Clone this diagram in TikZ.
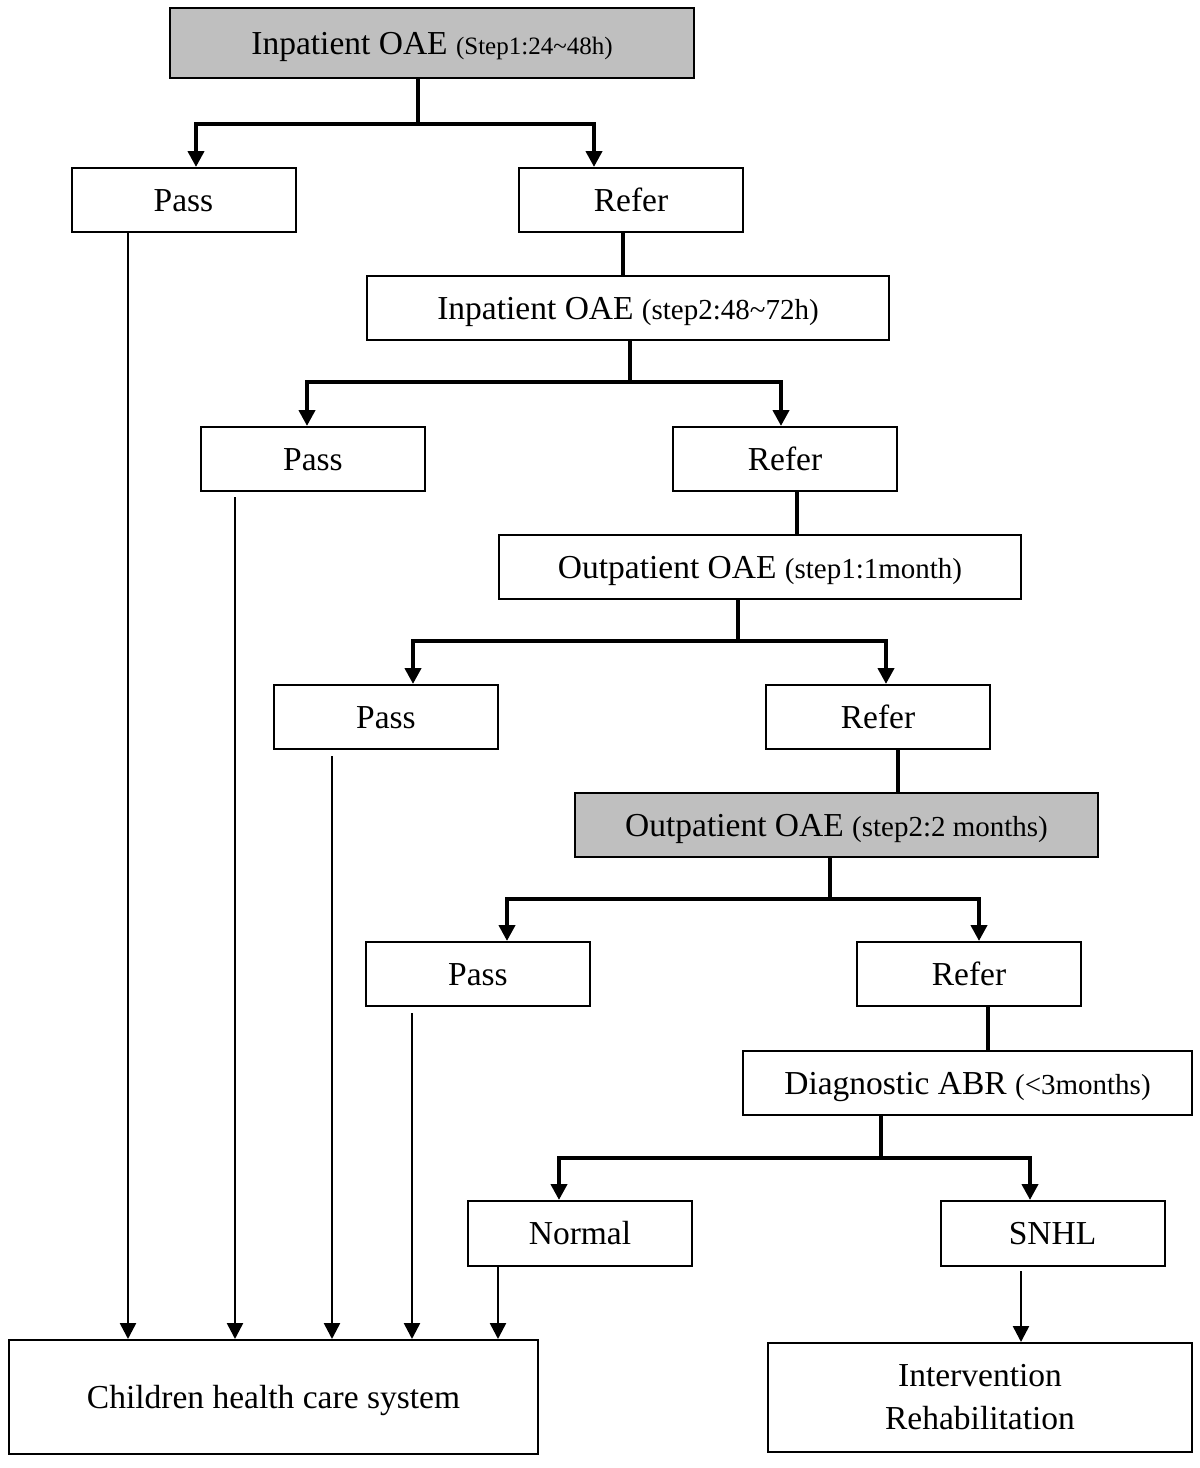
\documentclass[tikz,border=0pt]{standalone}
\usepackage{fontspec}
\setmainfont{Liberation Serif}
\usetikzlibrary{arrows.meta}

\tikzset{
  boxbase/.style={draw,line width=2pt,minimum width=224pt,minimum height=64pt,inner sep=0pt,
    font=\fontsize{33.5}{43}\selectfont,align=center},
  box/.style={boxbase,text height=22pt,text depth=0pt},
  greybox/.style={box,fill=black!25},
  branch/.style={line width=4pt},
  feed/.style={line width=2.5pt},
  tip/.style={-{Triangle[length=16pt,width=16pt]}}
}
\newcommand{\smtext}[1]{{\fontsize{29}{32}\selectfont #1}}
\newcommand{\tinytext}[1]{{\fontsize{25}{28}\selectfont #1}}

\begin{document}
\begin{tikzpicture}[x=1pt,y=-1pt]
    \useasboundingbox (0,0) rectangle (1200,1468);
    % screening steps
    \node[greybox,minimum width=524pt,minimum height=70pt] (in1) at (432,43) {Inpatient OAE \tinytext{(Step1:24\textasciitilde48h)}};
    \node[box] (pass1) at (183.5,200) {Pass};
    \node[box] (refer1) at (631,200) {Refer};
    \node[box,minimum width=522pt] (in2) at (628,308) {Inpatient OAE \smtext{(step2:48\textasciitilde72h)}};
    \node[box] (pass2) at (313,459) {Pass};
    \node[box] (refer2) at (785,459) {Refer};
    \node[box,minimum width=522pt] (out1) at (760,567) {Outpatient OAE \smtext{(step1:1month)}};
    \node[box] (pass3) at (386,717) {Pass};
    \node[box] (refer3) at (878,717) {Refer};
    \node[greybox,minimum width=523pt] (out2) at (836.5,825) {Outpatient OAE \smtext{(step2:2 months)}};
    \node[box] (pass4) at (478,974) {Pass};
    \node[box] (refer4) at (969,974) {Refer};
    \node[box,minimum width=449pt] (abr) at (967.5,1083) {Diagnostic ABR \smtext{(<3months)}};
    \node[box,minimum height=65pt] (normal) at (580,1233.5) {Normal};
    \node[box,minimum height=65pt] (snhl) at (1052.5,1233.5) {SNHL};
    % outcomes
    \node[box,minimum width=529pt,minimum height=114pt] (chs) at (273.5,1397) {Children health care system};
    \node[boxbase,minimum width=424pt,minimum height=109pt] (interv) at (980,1397.5) {Intervention\\Rehabilitation};

    % branches
    \coordinate (j1) at (418,124);
    \draw[branch] (j1) -- (j1 |- in1.south);
    \draw[branch,tip] (j1) -| ([xshift=12.5pt]pass1.north);
    \draw[branch,tip] (j1) -| ([xshift=-37pt]refer1.north);
    \coordinate (j2) at (630,382);
    \draw[branch] (j2) -- (j2 |- in2.south);
    \draw[branch,tip] (j2) -| ([xshift=-6pt]pass2.north);
    \draw[branch,tip] (j2) -| ([xshift=-4pt]refer2.north);
    \coordinate (j3) at (738,641);
    \draw[branch] (j3) -- (j3 |- out1.south);
    \draw[branch,tip] (j3) -| ([xshift=27pt]pass3.north);
    \draw[branch,tip] (j3) -| ([xshift=8pt]refer3.north);
    \coordinate (j4) at (830,899);
    \draw[branch] (j4) -- (j4 |- out2.south);
    \draw[branch,tip] (j4) -| ([xshift=29pt]pass4.north);
    \draw[branch,tip] (j4) -| ([xshift=10pt]refer4.north);
    \coordinate (j5) at (881,1158);
    \draw[branch] (j5) -- (j5 |- abr.south);
    \draw[branch,tip] (j5) -| ([xshift=-21pt]normal.north);
    \draw[branch,tip] (j5) -| ([xshift=-22.5pt]snhl.north);

    % refer to next step
    \coordinate (r1) at ([xshift=-8pt]refer1.south);
    \draw[branch] (r1) -- (r1 |- in2.north);
    \coordinate (r2) at ([xshift=12pt]refer2.south);
    \draw[branch] (r2) -- (r2 |- out1.north);
    \coordinate (r3) at ([xshift=20pt]refer3.south);
    \draw[branch] (r3) -- (r3 |- out2.north);
    \coordinate (r4) at ([xshift=19pt]refer4.south);
    \draw[branch] (r4) -- (r4 |- abr.north);

    % pass to children health care
    \coordinate (f1) at ([xshift=-55.5pt]pass1.south);
    \draw[feed,tip] (f1) -- (f1 |- chs.north);
    \coordinate (f2) at ([xshift=-78pt]pass2.south);
    \draw[feed,tip,shorten <=5pt] (f2) -- (f2 |- chs.north);
    \coordinate (f3) at ([xshift=-54pt]pass3.south);
    \draw[feed,tip,shorten <=6pt] (f3) -- (f3 |- chs.north);
    \coordinate (f4) at ([xshift=-66pt]pass4.south);
    \draw[feed,tip,shorten <=6pt] (f4) -- (f4 |- chs.north);
    \coordinate (f5) at ([xshift=-82pt]normal.south);
    \draw[feed,tip] (f5) -- (f5 |- chs.north);
    \coordinate (f6) at ([xshift=-31.5pt]snhl.south);
    \draw[feed,tip,shorten <=4pt] (f6) -- (f6 |- interv.north);
\end{tikzpicture}
\end{document}
